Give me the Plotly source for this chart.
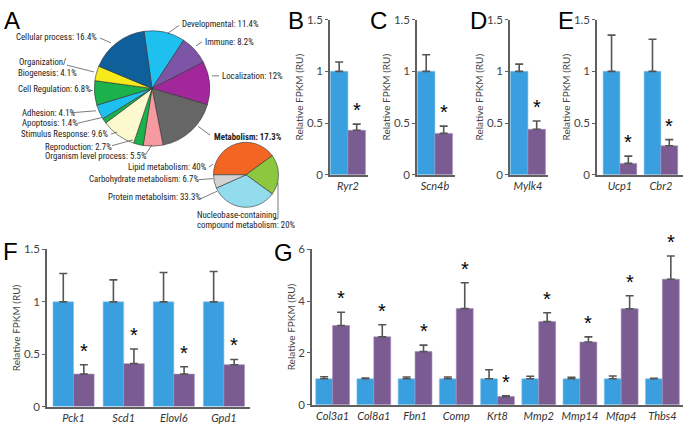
'''
    Multi-panel figure: GO pie charts (A) and relative FPKM bar charts (B-G).
'''

import plotly.graph_objects as go

W, H = 683, 431

# ---- data ----
go_terms = ["Developmental", "Immune", "Localization", "Metabolism",
            "Organism level process", "Reproduction", "Stimulus Response",
            "Apoptosis", "Adhesion", "Cell Regulation",
            "Organization/Biogenesis", "Cellular process"]
go_pct = [11.4, 8.2, 12, 17.3, 5.5, 2.7, 9.6, 1.4, 4.1, 6.8, 4.1, 16.4]
go_colors = ["#1ec0ef", "#7d55a6", "#a1279a", "#666666", "#f49aa0", "#1cb24b",
             "#fdf9cf", "#1cb24b", "#1ec0ef", "#1cb24b", "#f6ea1c", "#0e5f9a"]

met_terms = ["Lipid metabolism", "Nucleobase-containing compound metabolism",
             "Protein metabolsim", "Carbohydrate metabolism"]
met_pct = [40, 20, 33.3, 6.7]
met_colors = ["#f26522", "#8dc63f", "#93dcee", "#d3d3d3"]

genes_b = ["Ryr2"]
ctrl_b, ctrl_b_err = [1], [0.09]
ko_b, ko_b_err = [0.43], [0.06]

genes_c = ["Scn4b"]
ctrl_c, ctrl_c_err = [1], [0.16]
ko_c, ko_c_err = [0.40], [0.07]

genes_d = ["Mylk4"]
ctrl_d, ctrl_d_err = [1], [0.07]
ko_d, ko_d_err = [0.44], [0.08]

genes_e = ["Ucp1", "Cbr2"]
ctrl_e, ctrl_e_err = [1, 1], [0.35, 0.31]
ko_e, ko_e_err = [0.11, 0.28], [0.07, 0.06]

genes_f = ["Pck1", "Scd1", "Elovl6", "Gpd1"]
ctrl_f, ctrl_f_err = [1, 1, 1, 1], [0.27, 0.21, 0.28, 0.29]
ko_f, ko_f_err = [0.31, 0.41, 0.31, 0.40], [0.09, 0.14, 0.07, 0.05]

genes_g = ["Col3a1", "Col8a1", "Fbn1", "Comp", "Krt8", "Mmp2", "Mmp14",
           "Mfap4", "Thbs4"]
ctrl_g = [1, 1, 1, 1, 1, 1, 1, 1, 1]
ctrl_g_err = [0.08, 0.03, 0.07, 0.07, 0.35, 0.1, 0.06, 0.11, 0.02]
ko_g = [3.06, 2.62, 2.05, 3.72, 0.31, 3.21, 2.42, 3.71, 4.85]
ko_g_err = [0.51, 0.47, 0.25, 0.99, 0.03, 0.34, 0.2, 0.5, 0.9]

BLUE = "#3a9fde"
PURPLE = "#7b5c92"
AXIS = "#606060"
BARGAP = 0.18


def px(x):
    return x / W


def py(y):
    return 1 - y / H


fig = go.Figure()

# ---- A: pies ----
fig.add_trace(go.Pie(
    labels=go_terms, values=go_pct, sort=False, direction="clockwise",
    rotation=-8, textinfo="none", hoverinfo="label+percent",
    marker=dict(colors=go_colors, line=dict(color="#333333", width=0.6)),
    domain=dict(x=[px(92.5), px(211.5)], y=[py(143.5), py(24.5)]),
    showlegend=False))
fig.add_trace(go.Pie(
    labels=met_terms, values=met_pct, sort=False, direction="clockwise",
    rotation=-90, textinfo="none", hoverinfo="label+percent",
    marker=dict(colors=met_colors, line=dict(color="#333333", width=0.6)),
    domain=dict(x=[px(212.5), px(279.5)], y=[py(206.5), py(139.5)]),
    showlegend=False))

# ---- bar panels ----
# (genes, ctrl, ctrl_err, ko, ko_err, x pixel domain, y pixel domain, x range, y max, y ticks)
panels = [
    (genes_b, ctrl_b, ctrl_b_err, ko_b, ko_b_err, (330, 368), (173, 13), (-0.42, 0.47), 1.5, [0, 0.5, 1, 1.5]),
    (genes_c, ctrl_c, ctrl_c_err, ko_c, ko_c_err, (417, 455), (173, 13), (-0.42, 0.47), 1.5, [0, 0.5, 1, 1.5]),
    (genes_d, ctrl_d, ctrl_d_err, ko_d, ko_d_err, (510, 548), (173, 13), (-0.42, 0.47), 1.5, [0, 0.5, 1, 1.5]),
    (genes_e, ctrl_e, ctrl_e_err, ko_e, ko_e_err, (597, 683), (173, 13), (-0.56, 1.54), 1.5, [0, 0.5, 1, 1.5]),
    (genes_f, ctrl_f, ctrl_f_err, ko_f, ko_f_err, (47, 250), (412, 250), (-0.53, 3.52), 1.5, [0, 0.5, 1, 1.5]),
    (genes_g, ctrl_g, ctrl_g_err, ko_g, ko_g_err, (312, 683), (410, 250), (-0.5, 8.5), 6, [0, 2, 4, 6]),
]

annotations = []
layout_axes = {}
for i, (genes, ctrl, cerr, ko, kerr, xd, yd, xr, ymax, yt) in enumerate(panels, start=1):
    xa = "x" if i == 1 else "x%d" % i
    ya = "y" if i == 1 else "y%d" % i
    err_style = dict(type="data", symmetric=False, color="#555555",
                     thickness=1.6, width=4)
    fig.add_trace(go.Bar(
        x=genes, y=ctrl, xaxis=xa, yaxis=ya, marker_color=BLUE,
        marker_line=dict(color="#7fc4ee", width=0.6),
        error_y=dict(array=cerr, arrayminus=[0] * len(cerr), **err_style),
        showlegend=False, name="Control"))
    fig.add_trace(go.Bar(
        x=genes, y=ko, xaxis=xa, yaxis=ya, marker_color=PURPLE,
        marker_line=dict(color="#a58bb6", width=0.6),
        error_y=dict(array=kerr, arrayminus=[0] * len(kerr), **err_style),
        showlegend=False, name="Treated"))

    # significance stars above the treated bars
    px_per_unit = (xd[1] - xd[0]) / (xr[1] - xr[0])
    shift = (1 - BARGAP) / 4 * px_per_unit
    for g, v, e in zip(genes, ko, kerr):
        annotations.append(dict(
            text="*", x=g, y=v + e, xref=xa, yref=ya, xshift=shift, yshift=1,
            xanchor="center", yanchor="bottom", showarrow=False,
            font=dict(family="Liberation Sans", size=20, color="black")))

    key = xa.replace("x", "xaxis")
    ykey = ya.replace("y", "yaxis")
    layout_axes[key] = dict(
        domain=[px(xd[0]), px(xd[1])], anchor=ya, range=list(xr),
        showline=True, linecolor=AXIS, linewidth=1.5, ticks="",
        showgrid=False, zeroline=False, fixedrange=True,
        tickfont=dict(family="Lato", size=11, color="#333333", style="italic"))
    layout_axes[ykey] = dict(
        domain=[py(yd[0]), py(yd[1])], anchor=xa, range=[0, ymax],
        tickvals=yt, ticktext=[("%g" % t) for t in yt],
        showline=True, linecolor=AXIS, linewidth=1.5, ticks="outside",
        ticklen=3, tickcolor=AXIS, tickwidth=1.2,
        showgrid=False, zeroline=False,
        tickfont=dict(family="Lato", size=11.5, color="#444444"),
        title=dict(text="Relative FPKM (RU)", standoff=1,
                   font=dict(family="Lato", size=10, color="#444444")))

# ---- A labels and leader lines ----
LBL = dict(family="Liberation Sans Narrow, Roboto Condensed, Roboto", size=8.8, color="#222222")
callouts = [
    # text, x, y, xanchor, leader line (x0, y0, x1, y1)
    ("Cellular process: 16.4%", 99, 31, "right", (100, 32, 111, 37)),
    ("Developmental: 11.4%", 180, 18, "left", (179, 19, 168, 27)),
    ("Immune: 8.2%", 203, 36, "left", (202, 36, 196, 40)),
    ("Localization: 12%", 220, 71, "left", (219, 71, 212, 71)),
    ("<b>Metabolism: 17.3%</b>", 212, 134, "left", (210, 132, 198, 123)),
    ("Organization/", 17, 57, "left", (67, 60, 94, 67)),
    ("Biogenesis: 4.1%", 16, 68, "left", None),
    ("Cell Regulation: 6.8%", 16, 85, "left", (90, 86, 93, 86)),
    ("Adhesion: 4.1%", 20, 109, "left", (72, 109, 96, 107)),
    ("Apoptosis: 1.4%", 20, 120, "left", (77, 120, 102, 114)),
    ("Stimulus Response: 9.6%", 19, 131, "left", (111, 131, 117, 129)),
    ("Reproduction: 2.7%", 43, 144, "left", (112, 143, 133, 137)),
    ("Organism level process: 5.5%", 43, 154, "left", (145, 153, 152, 142)),
    ("Lipid metabolism: 40%", 209, 165, "right", (209, 165, 213, 162)),
    ("Carbohydrate metabolism: 6.7%", 87, 177, "left", (199, 178, 213, 177)),
    ("Protein metabolsim: 33.3%", 106, 196, "left", (200, 198, 217, 190)),
    ("Nucleobase-containing", 195, 214, "left", (278, 181, 278, 218)),
    ("compound metabolism: 20%", 195, 225, "left", (278, 218, 274, 218)),
]
shapes = []
for text, x, y, xa_, line in callouts:
    annotations.append(dict(text=text, x=px(x), y=py(y), xref="paper", yref="paper",
                            xanchor=xa_, yanchor="middle", showarrow=False, font=LBL))
    if line:
        shapes.append(dict(type="line", xref="paper", yref="paper",
                           x0=px(line[0]), y0=py(line[1]), x1=px(line[2]), y1=py(line[3]),
                           line=dict(color="#444444", width=0.7)))

# panel letters
for letter, x, y in [("A", 2, 14), ("B", 286, 14), ("C", 368, 14), ("D", 468, 14),
                     ("E", 556, 14), ("F", 1, 252), ("G", 272, 253)]:
    annotations.append(dict(text=letter, x=px(x), y=py(y), xref="paper", yref="paper",
                            xanchor="left", yanchor="middle", showarrow=False,
                            font=dict(family="Liberation Sans", size=24, color="black")))

fig.update_layout(
    width=W, height=H, margin=dict(l=0, r=0, t=0, b=0),
    paper_bgcolor="white", plot_bgcolor="white",
    barmode="group", bargap=BARGAP, bargroupgap=0,
    annotations=annotations, shapes=shapes, **layout_axes)

# the page body has a default margin; drop it so the figure sits at the window corner
fig.write_html("out.html", config={"displayModeBar": False},
               post_script="document.body.style.margin='0px';")
